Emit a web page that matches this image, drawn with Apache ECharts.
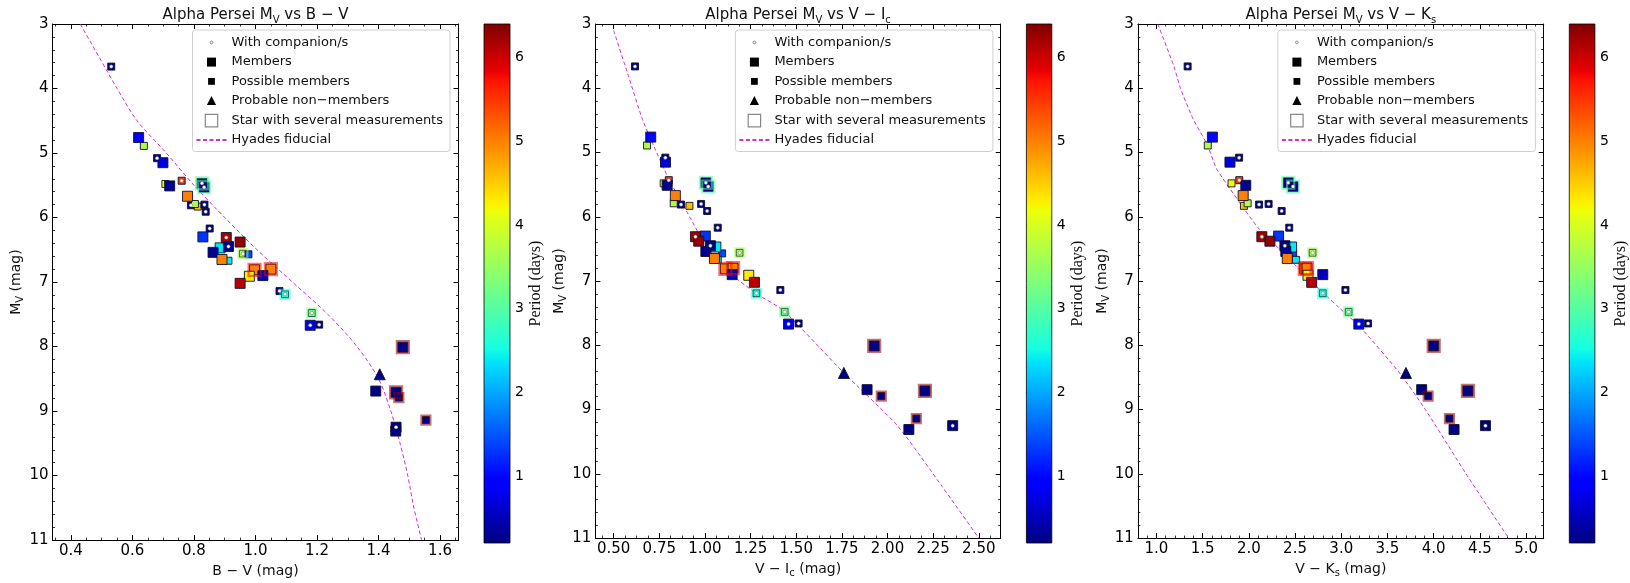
<!DOCTYPE html>
<html><head><meta charset="utf-8">
<script src="https://cdn.jsdelivr.net/npm/echarts@6/dist/echarts.min.js"></script>
<style>html,body{margin:0;padding:0;background:#fff}#c{width:1630px;height:583px}</style>
</head><body><div id="c"></div>
<script>
// ---------------- DATA ----------------
const mv = [3.66,4.76,4.89,5.08,5.15,5.48,5.51,5.43,5.47,5.53,5.67,5.81,5.83,5.79,5.80,5.91,6.17,6.30,6.31,6.38,6.47,6.45,6.54,6.56,6.57,6.65,6.67,6.81,6.80,6.91,6.90,7.02,7.14,7.19,7.48,7.67,7.66,8.01,8.43,8.69,8.71,8.79,9.14,9.25,9.31];
const bv = [0.531,0.620,0.637,0.680,0.699,0.707,0.721,0.760,0.826,0.833,0.779,0.790,0.812,0.803,0.834,0.838,0.851,0.829,0.905,0.950,0.885,0.912,0.862,0.959,0.977,0.891,0.912,0.997,1.050,0.980,1.024,0.950,1.078,1.096,1.183,1.178,1.207,1.479,1.404,1.391,1.457,1.466,1.554,1.457,1.456];
const vi = [0.617,0.703,0.683,0.783,0.784,0.774,0.793,0.802,1.005,1.018,0.838,0.869,0.915,0.829,0.979,1.012,1.070,1.002,0.948,0.966,1.060,1.030,1.005,1.190,1.094,1.052,1.070,1.112,1.154,1.240,1.149,1.271,1.413,1.282,1.437,1.458,1.513,1.927,1.761,1.888,2.205,1.966,2.158,2.357,2.117];
const vk = [1.338,1.606,1.556,1.895,1.796,1.813,1.967,1.897,2.427,2.478,1.939,2.111,1.947,1.987,2.214,2.355,2.437,2.322,2.141,2.228,2.463,2.390,2.400,2.690,2.480,2.416,2.510,2.605,2.630,2.640,2.800,2.680,3.045,2.800,3.080,3.190,3.290,4.000,3.700,3.870,4.370,3.940,4.170,4.560,4.220];
const period = [0.22,1.0,3.7,0.25,0.7,4.2,0.3,5.5,0.22,0.22,5.0,0.25,4.6,3.7,0.25,0.25,0.25,1.3,6.2,6.3,2.4,0.22,0.3,3.6,1.4,5.0,2.4,5.0,5.0,4.3,0.5,6.1,0.22,2.6,3.2,0.8,0.22,0.22,0.22,0.22,0.22,0.22,0.22,0.22,0.22];
const kind = ['P','M','P','P','M','P','M','P','M','M','M','P','P','P','P','P','P','M','M','M','M','M','M','P','P','M','P','M','M','M','M','M','P','P','P','M','P','M','N','M','M','P','P','M','M'];
const companion = [1,0,0,1,0,0,0,1,1,1,0,1,0,0,1,1,1,0,1,0,0,1,0,1,0,0,0,0,0,0,0,0,1,1,1,1,1,0,0,0,0,0,0,1,0];
const framePeriod = [0,0,0,0,0,0,0,0,3.0,3.0,0,0,0,0,0,0,0,0,0,0,0,0,0,3.6,0,0,0,5.8,5.8,0,0,0,0,2.6,3.2,0,0,6.3,0,0,6.3,6.3,6.3,0,0];

// Hyades fiducial sequences
const fidBV_x = [0.43,0.49,0.55,0.615,0.71,0.80,0.90,1.005,1.12,1.235,1.33,1.40,1.44,1.47,1.495,1.515,1.54];
const fidBV_y = [3.0,3.5,4.0,4.5,5.0,5.5,6.0,6.5,7.0,7.5,8.0,8.5,9.0,9.5,10.0,10.5,11.0];
const fidVI_x = [0.50,0.58,0.656,0.72,0.80,0.92,1.01,1.12,1.285,1.43,1.761,2.054,2.30,2.50];
const fidVI_y = [3.1,3.8,4.47,4.9,5.4,6.02,6.48,6.84,7.2,7.46,8.43,9.25,10.2,11.0];
const fidVK_x = [1.015,1.19,1.26,1.398,1.554,1.65,1.868,2.10,2.40,2.70,2.95,3.20,3.63,3.91,4.35,4.81];
const fidVK_y = [3.0,3.66,4.0,4.48,4.89,5.25,5.71,6.17,6.6,7.04,7.38,7.71,8.43,9.0,10.0,11.0];

// tick labels
const bvTicks = [0.4,0.6,0.8,1.0,1.2,1.4,1.6];
const viTicks = [0.5,0.75,1.0,1.25,1.5,1.75,2.0,2.25,2.5];
const vkTicks = [1.0,1.5,2.0,2.5,3.0,3.5,4.0,4.5,5.0];
const cbTicks = [1,2,3,4,5,6];
const cbMin = 0.2, cbMax = 6.4;

// ---------------- STYLE / LAYOUT ----------------
const F = 'DejaVu Sans';
const TOP = 24, H = 519;
const plotBoxes = [[52.5,406],[595.4,405.3],[1137.9,405.8]];
const cbBoxes = [[484,26],[1026.4,25.4],[1569.3,25.6]];

const JET = [[0,[0,0,0.5]],[0.11,[0,0,1]],[0.125,[0,0,1]],[0.34,[0,0.86,1]],[0.35,[0,0.9,0.968]],[0.375,[0.081,1,0.887]],[0.64,[0.935,1,0.032]],[0.65,[0.968,0.963,0]],[0.66,[1,0.926,0]],[0.89,[1,0.074,0]],[0.91,[0.909,0,0]],[1,[0.5,0,0]]];
function rgb(c){return 'rgb('+c.map(v=>Math.round(v*255)).join(',')+')';}
function jet(p){
  let t=(p-cbMin)/(cbMax-cbMin); t=Math.max(0,Math.min(1,t));
  for(let k=1;k<JET.length;k++){
    if(t<=JET[k][0]){const [t0,c0]=JET[k-1],[t1,c1]=JET[k];const f=(t-t0)/((t1-t0)||1);
      return rgb(c0.map((v,j)=>v+(c1[j]-v)*f));}
  }
  return rgb([0.5,0,0]);
}
function minorList(a,b,step,majors){
  const out=[];const n=Math.round((b-a)/step);
  for(let k=0;k<=n;k++){const v=+(a+k*step).toFixed(4);if(!majors.some(m=>Math.abs(m-v)<1e-6))out.push(v);}
  return out;
}

const panels = [
  {xs:bv, fx:fidBV_x, fy:fidBV_y, min:0.34, max:1.66, ticks:bvTicks, minors:minorList(0.35,1.65,0.05,bvTicks), dec:1, smooth:0.3,
   title:'{a|Alpha Persei M}{s|V}{a| vs B − V}', xname:'{a|B − V (mag)}'},
  {xs:vi, fx:fidVI_x, fy:fidVI_y, min:0.40, max:2.62, ticks:viTicks, minors:minorList(0.4375,2.5625,0.0625,viTicks), dec:2, smooth:0.2,
   title:'{a|Alpha Persei M}{s|V}{a| vs V − I}{s|c}', xname:'{a|V − I}{s|c}{a| (mag)}'},
  {xs:vk, fx:fidVK_x, fy:fidVK_y, min:0.80, max:5.19, ticks:vkTicks, minors:minorList(0.8,5.1,0.1,vkTicks), dec:1, smooth:0.2,
   title:'{a|Alpha Persei M}{s|V}{a| vs V − K}{s|s}', xname:'{a|V − K}{s|s}{a| (mag)}'}
];

const richTitle = {a:{fontFamily:F,fontSize:15,fontWeight:'normal',color:'#111',lineHeight:20},s:{fontFamily:F,fontSize:10,fontWeight:'normal',color:'#111',lineHeight:11,verticalAlign:'bottom'}};
const richAxis = {a:{fontFamily:F,fontSize:14,color:'#111',lineHeight:18},s:{fontFamily:F,fontSize:10,color:'#111',lineHeight:10,verticalAlign:'bottom'}};

const grid=[],xAxis=[],yAxis=[],series=[],title=[],legend=[];
const idx = mv.map((_,k)=>k);
const EDGE = '#101030';

panels.forEach((pn,i)=>{
  const [gl,gw]=plotBoxes[i];
  grid.push({left:gl,top:TOP,width:gw,height:H});
  const g=grid.length-1;
  const xi=xAxis.length, yi=yAxis.length;
  const bx={gridIndex:g,type:'value',min:pn.min,max:pn.max,splitLine:{show:false}};
  const tickMaj={show:true,inside:true,length:5,customValues:pn.ticks,lineStyle:{color:'#000',width:1}};
  const tickMin={show:true,inside:true,length:2.5,customValues:pn.minors,lineStyle:{color:'#000',width:0.8}};
  xAxis.push(Object.assign({},bx,{position:'bottom',axisLine:{show:true,onZero:false,lineStyle:{color:'#000',width:1}},axisTick:tickMaj,
    axisLabel:{show:true,customValues:pn.ticks,formatter:v=>v.toFixed(pn.dec),fontFamily:F,fontSize:15,color:'#000',margin:4},
    name:pn.xname,nameLocation:'middle',nameGap:18,nameTextStyle:{rich:richAxis}}));
  xAxis.push(Object.assign({},bx,{position:'bottom',axisLine:{show:false,onZero:false},axisTick:tickMin,axisLabel:{show:false}}));
  xAxis.push(Object.assign({},bx,{position:'top',axisLine:{show:true,onZero:false,lineStyle:{color:'#000',width:1}},axisTick:tickMaj,axisLabel:{show:false}}));
  xAxis.push(Object.assign({},bx,{position:'top',axisLine:{show:false,onZero:false},axisTick:tickMin,axisLabel:{show:false}}));
  const by={gridIndex:g,type:'value',min:3,max:11,interval:1,inverse:true,splitLine:{show:false},
    minorTick:{show:true,splitNumber:5,length:2.5,lineStyle:{color:'#000',width:0.8}}};
  yAxis.push(Object.assign({},by,{position:'left',axisLine:{show:true,onZero:false,lineStyle:{color:'#000',width:1}},
    axisTick:{show:true,inside:true,length:5,lineStyle:{color:'#000'}},
    axisLabel:{fontFamily:F,fontSize:15,color:'#000',margin:4},
    name:'{a|M}{s|V}{a| (mag)}',nameLocation:'middle',nameRotate:90,nameGap:23,nameTextStyle:{rich:richAxis}}));
  yAxis.push(Object.assign({},by,{position:'right',axisLine:{show:true,onZero:false,lineStyle:{color:'#000',width:1}},
    axisTick:{show:true,inside:true,length:5,lineStyle:{color:'#000'}},axisLabel:{show:false}}));

  title.push({text:pn.title,left:gl+gw/2,top:5,textAlign:'center',padding:0,textStyle:{fontWeight:'normal',rich:richTitle}});

  const common={xAxisIndex:xi,yAxisIndex:yi,animation:false,emphasis:{disabled:true}};
  series.push(Object.assign({},common,{type:'line',name:'Hyades fiducial',data:pn.fx.map((x,k)=>[x,pn.fy[k]]),symbol:'none',smooth:pn.smooth,
    lineStyle:{color:'#cc33cc',width:1,type:[4,2.5]},itemStyle:{color:'#cc33cc'},z:2,clip:true}));
  const pt=(k)=>({value:[pn.xs[k],mv[k]],itemStyle:{color:jet(period[k])}});
  series.push(Object.assign({},common,{type:'scatter',name:'Possible members',symbol:'rect',symbolSize:7,
    itemStyle:{borderColor:EDGE,borderWidth:0.9,opacity:1},data:idx.filter(k=>kind[k]==='P').map(pt),z:3}));
  series.push(Object.assign({},common,{type:'scatter',name:'Members',symbol:'rect',symbolSize:10,
    itemStyle:{borderColor:EDGE,borderWidth:0.9,opacity:1},data:idx.filter(k=>kind[k]==='M').map(pt),z:3}));
  series.push(Object.assign({},common,{type:'scatter',name:'Probable non−members',symbol:'triangle',symbolSize:11,
    itemStyle:{borderColor:EDGE,borderWidth:0.9,opacity:1},data:idx.filter(k=>kind[k]==='N').map(pt),z:3}));
  series.push(Object.assign({},common,{type:'scatter',name:'Star with several measurements',symbol:'rect',
    data:idx.filter(k=>framePeriod[k]>0).map(k=>({value:[pn.xs[k],mv[k]],symbolSize:kind[k]==='M'?12:9,
      itemStyle:{color:'rgba(0,0,0,0)',borderColor:jet(framePeriod[k]),borderWidth:2.2,opacity:0.55}})),z:4}));
  series.push(Object.assign({},common,{type:'scatter',name:'With companion/s',symbol:'circle',symbolSize:3.5,
    itemStyle:{color:'#fff',borderColor:'#666',borderWidth:0.5,opacity:1},data:idx.filter(k=>companion[k]).map(k=>[pn.xs[k],mv[k]]),z:5}));

  legend.push({left:gl+140,top:30,orient:'vertical',itemWidth:30,itemHeight:14,itemGap:5.3,padding:[5,7,5,3],
    backgroundColor:'#fff',borderColor:'#cfcfcf',borderWidth:1,borderRadius:3,selectedMode:false,
    textStyle:{fontFamily:F,fontSize:13,color:'#111'},
    data:[
      {name:'With companion/s',icon:'path://M0,0M14,14M5.6,7A1.4,1.4,0,1,1,8.4,7A1.4,1.4,0,1,1,5.6,7z',itemStyle:{color:'#fff',borderColor:'#777',borderWidth:0.8,opacity:1}},
      {name:'Members',icon:'path://M0,0M14,14M2.5,2.5h9v9h-9z',itemStyle:{color:'#000',borderWidth:0,opacity:1}},
      {name:'Possible members',icon:'path://M0,0M14,14M3.6,3.6h6.8v6.8h-6.8z',itemStyle:{color:'#000',borderWidth:0,opacity:1}},
      {name:'Probable non−members',icon:'path://M0,0M14,14M7,2.3L11.6,11.2L2.4,11.2z',itemStyle:{color:'#000',borderWidth:0,opacity:1}},
      {name:'Star with several measurements',icon:'path://M0,0M14,14M0.8,0.8h12.4v12.4h-12.4z',itemStyle:{color:'rgba(0,0,0,0)',borderColor:'#888',borderWidth:1.2,opacity:1}},
      {name:'Hyades fiducial',itemStyle:{color:'rgba(0,0,0,0)',borderColor:'rgba(0,0,0,0)',borderWidth:0,opacity:0}}
    ]});

  // colorbar
  const [cl,cw]=cbBoxes[i];
  grid.push({left:cl,top:TOP,width:cw,height:H});
  const cg=grid.length-1, cxi=xAxis.length, cyi=yAxis.length;
  xAxis.push({gridIndex:cg,type:'value',min:0,max:1,show:false});
  yAxis.push({gridIndex:cg,type:'value',min:cbMin,max:cbMax,position:'right',splitLine:{show:false},
    axisLine:{show:false},axisTick:{show:true,inside:false,length:3.5,customValues:cbTicks,lineStyle:{color:'#000'}},
    axisLabel:{customValues:cbTicks,fontFamily:F,fontSize:14,color:'#000',margin:5},
    name:'Period (days)',nameLocation:'middle',nameRotate:90,nameGap:13,
    nameTextStyle:{fontFamily:'Liberation Serif',fontSize:16,color:'#111',lineHeight:16}});
  const stops=JET.map(s=>({offset:s[0],color:rgb(s[1])}));
  series.push({type:'custom',xAxisIndex:cxi,yAxisIndex:cyi,silent:true,animation:false,data:[[0,cbMin]],
    renderItem:(params,api)=>{const p0=api.coord([0,cbMax]),p1=api.coord([1,cbMin]);
      return {type:'rect',shape:{x:p0[0],y:p0[1],width:p1[0]-p0[0],height:p1[1]-p0[1]},
        style:{fill:new echarts.graphic.LinearGradient(0,1,0,0,stops),stroke:'#000',lineWidth:0.8}};}});
});

const chart = echarts.init(document.getElementById('c'),null,{renderer:'canvas'});
chart.setOption({animation:false,backgroundColor:'#fff',textStyle:{fontFamily:F},title,legend,grid,xAxis,yAxis,series});
</script></body></html>
